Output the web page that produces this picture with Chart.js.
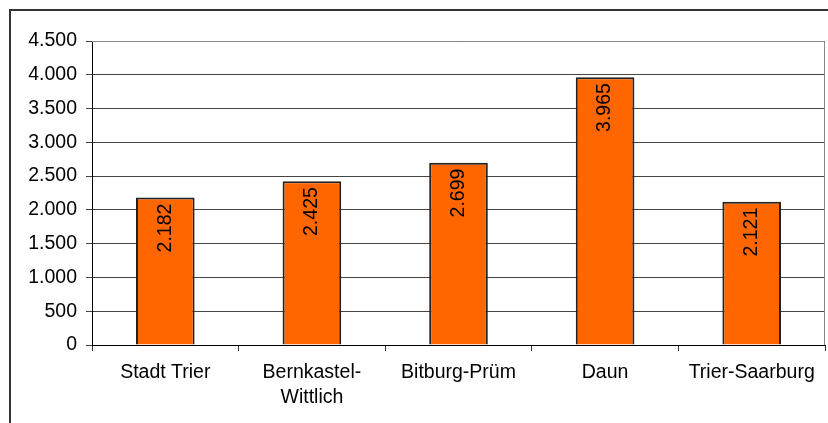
<!DOCTYPE html>
<html>
<head>
<meta charset="utf-8">
<script src="https://cdn.jsdelivr.net/npm/chart.js@4"></script>
<style>
  html, body { margin: 0; padding: 0; background: #fff; overflow: hidden; }
  #wrap { position: relative; width: 828px; height: 423px; overflow: hidden; }
  #frame { position: absolute; left: 9px; top: 9px; width: 840px; height: 440px; border: 2px solid #333; box-sizing: border-box; }
  canvas { position: absolute; left: 0; top: 0; }
</style>
</head>
<body>
<div id="wrap">
  <div id="frame"></div>
  <canvas id="chart" width="828" height="423"></canvas>
</div>
<script>
/* ── Data ── */
const regions = ['Stadt Trier', ['Bernkastel-', 'Wittlich'], 'Bitburg-Prüm', 'Daun', 'Trier-Saarburg'];
const values  = [2182, 2425, 2699, 3965, 2121];
const yMax  = 4500;
const yStep = 500;

const FONT = { family: '"Liberation Sans", Arial, sans-serif', size: 19.5 };

/* ── Helper: German thousands separator ── */
function fmt(v) {
  return String(v).replace(/\B(?=(\d{3})+(?!\d))/g, '.');
}

/* ── Plugin: value labels rotated inside bars ── */
const barLabels = {
  id: 'barLabels',
  afterDatasetsDraw(chart) {
    const ctx = chart.ctx;
    const meta = chart.getDatasetMeta(0);
    ctx.save();
    ctx.font = `${FONT.size}px ${FONT.family}`;
    ctx.fillStyle = '#000';
    meta.data.forEach((bar, i) => {
      ctx.save();
      ctx.translate(bar.x, bar.y + 6);
      ctx.rotate(-Math.PI / 2);
      ctx.textAlign = 'right';
      ctx.textBaseline = 'middle';
      ctx.fillText(fmt(values[i]), 0, 0);
      ctx.restore();
    });
    ctx.restore();
  }
};

/* ── Plugin: grey plot-area border (top + right) ── */
const plotBorder = {
  id: 'plotBorder',
  beforeDatasetsDraw(chart) {
    const { ctx, chartArea: a } = chart;
    ctx.save();
    ctx.strokeStyle = '#888';
    ctx.lineWidth = 1;
    ctx.beginPath();
    ctx.moveTo(a.left, a.top + 0.5);
    ctx.lineTo(a.right - 0.5, a.top + 0.5);
    ctx.lineTo(a.right - 0.5, a.bottom);
    ctx.stroke();
    ctx.restore();
  }
};

new Chart(document.getElementById('chart'), {
  type: 'bar',
  data: {
    labels: regions,
    datasets: [{
      data: values,
      backgroundColor: '#FF6600',
      borderColor: '#222',
      borderWidth: 2,
      borderSkipped: 'bottom',
      barPercentage: 0.4,
      categoryPercentage: 1.0,
    }],
  },
  options: {
    responsive: false,
    animation: false,
    layout: { padding: { top: 41, right: 3, bottom: 0, left: 0 } },
    plugins: {
      legend: { display: false },
      tooltip: { enabled: false },
    },
    scales: {
      x: {
        afterFit: axis => { axis.height = 78; },
        grid: { drawOnChartArea: false, drawTicks: true, tickLength: 6, color: '#333', offset: true },
        border: { color: '#000', width: 1 },
        ticks: { color: '#000', font: { ...FONT, lineHeight: 1.3 }, padding: 9, maxRotation: 0, autoSkip: false },
      },
      y: {
        min: 0, max: yMax,
        afterFit: axis => { axis.width = 92; },
        grid: { color: '#444', tickLength: 6, lineWidth: 1 },
        border: { color: '#000', width: 1 },
        ticks: { stepSize: yStep, color: '#000', font: FONT, padding: 9, callback: v => fmt(v) },
      },
    },
  },
  plugins: [plotBorder, barLabels],
});
</script>
</body>
</html>
